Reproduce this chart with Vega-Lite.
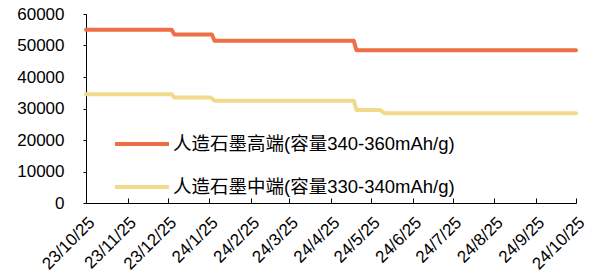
{
  "$schema": "https://vega.github.io/schema/vega-lite/v6.json",
  "width": 490,
  "height": 189,
  "autosize": "none",
  "padding": {"left": 86, "top": 14, "right": 18, "bottom": 77},
  "background": "white",
  "config": {
    "view": {"stroke": null},
    "font": "Liberation Sans",
    "axis": {"grid": false, "domainColor": "#000000", "tickColor": "#000000", "labelColor": "#000000", "labelFont": "Liberation Sans", "titleFont": "Liberation Sans"}
  },
  "data": {
    "values": [
      {"date": "2023-10-25", "series": "人造石墨高端(容量340-360mAh/g)", "price": 55000},
      {"date": "2023-12-28", "series": "人造石墨高端(容量340-360mAh/g)", "price": 55000},
      {"date": "2023-12-30", "series": "人造石墨高端(容量340-360mAh/g)", "price": 53500},
      {"date": "2024-01-27", "series": "人造石墨高端(容量340-360mAh/g)", "price": 53500},
      {"date": "2024-01-29", "series": "人造石墨高端(容量340-360mAh/g)", "price": 51500},
      {"date": "2024-05-12", "series": "人造石墨高端(容量340-360mAh/g)", "price": 51500},
      {"date": "2024-05-14", "series": "人造石墨高端(容量340-360mAh/g)", "price": 48500},
      {"date": "2024-10-25", "series": "人造石墨高端(容量340-360mAh/g)", "price": 48500},
      {"date": "2023-10-25", "series": "人造石墨中端(容量330-340mAh/g)", "price": 34500},
      {"date": "2023-12-28", "series": "人造石墨中端(容量330-340mAh/g)", "price": 34500},
      {"date": "2023-12-30", "series": "人造石墨中端(容量330-340mAh/g)", "price": 33500},
      {"date": "2024-01-26", "series": "人造石墨中端(容量330-340mAh/g)", "price": 33500},
      {"date": "2024-01-29", "series": "人造石墨中端(容量330-340mAh/g)", "price": 32500},
      {"date": "2024-05-12", "series": "人造石墨中端(容量330-340mAh/g)", "price": 32500},
      {"date": "2024-05-14", "series": "人造石墨中端(容量330-340mAh/g)", "price": 29500},
      {"date": "2024-06-01", "series": "人造石墨中端(容量330-340mAh/g)", "price": 29500},
      {"date": "2024-06-04", "series": "人造石墨中端(容量330-340mAh/g)", "price": 28500},
      {"date": "2024-10-25", "series": "人造石墨中端(容量330-340mAh/g)", "price": 28500}
    ]
  },
  "mark": {"type": "line", "strokeWidth": 4, "strokeCap": "round", "strokeJoin": "round", "clip": false},
  "encoding": {
    "x": {
      "field": "date", "type": "temporal",
      "scale": {"type": "utc", "domain": [{"year": 2023, "month": 10, "date": 25, "utc": true}, {"year": 2024, "month": 10, "date": 25, "utc": true}]},
      "axis": {
        "title": null, "labelExpr": "utcFormat(datum.value, '%y/%-m/%d')",
        "values": [
          {"year": 2023, "month": 10, "date": 25, "utc": true},
          {"year": 2023, "month": 11, "date": 25, "utc": true},
          {"year": 2023, "month": 12, "date": 25, "utc": true},
          {"year": 2024, "month": 1, "date": 25, "utc": true},
          {"year": 2024, "month": 2, "date": 25, "utc": true},
          {"year": 2024, "month": 3, "date": 25, "utc": true},
          {"year": 2024, "month": 4, "date": 25, "utc": true},
          {"year": 2024, "month": 5, "date": 25, "utc": true},
          {"year": 2024, "month": 6, "date": 25, "utc": true},
          {"year": 2024, "month": 7, "date": 25, "utc": true},
          {"year": 2024, "month": 8, "date": 25, "utc": true},
          {"year": 2024, "month": 9, "date": 25, "utc": true},
          {"year": 2024, "month": 10, "date": 25, "utc": true}
        ],
        "labelAngle": -45, "labelFontSize": 17, "labelPadding": 16, "labelDx": 5,
        "tickSize": -5, "domainWidth": 1, "labelOverlap": false, "labelFlush": false
      }
    },
    "y": {
      "field": "price", "type": "quantitative",
      "scale": {"domain": [0, 60000], "nice": false, "zero": true},
      "axis": {"title": null, "values": [0, 10000, 20000, 30000, 40000, 50000, 60000], "format": "d", "labelFontSize": 17, "labelPadding": 19, "tickSize": 3, "labelFlush": false}
    },
    "color": {
      "field": "series", "type": "nominal",
      "sort": ["人造石墨高端(容量340-360mAh/g)", "人造石墨中端(容量330-340mAh/g)"],
      "scale": {"domain": ["人造石墨高端(容量340-360mAh/g)", "人造石墨中端(容量330-340mAh/g)"], "range": ["#EE6E46", "#F1DA8B"]},
      "legend": {
        "title": null, "orient": "none", "legendX": 27, "legendY": 101,
        "symbolType": "stroke", "symbolSize": 2916, "symbolStrokeWidth": 4,
        "labelFontSize": 18.5, "labelFont": "Liberation Sans, Noto Sans CJK SC", "labelColor": "#000000",
        "labelOffset": 2, "rowPadding": 4, "padding": 0, "labelLimit": 400
      }
    }
  }
}
